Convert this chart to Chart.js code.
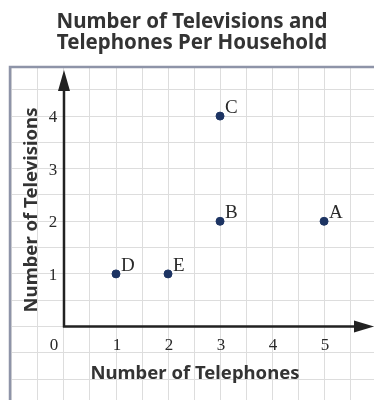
<!DOCTYPE html>
<html>
<head>
<meta charset="utf-8">
<script src="https://cdn.jsdelivr.net/npm/chart.js@4.4.0/dist/chart.umd.min.js"></script>
<style>
  body { margin: 0; background: #fff; }
</style>
</head>
<body>
<canvas id="myChart" width="374" height="400"></canvas>
<script>
// data
const pointNames = ['A', 'B', 'C', 'D', 'E'];
const telephones = [5, 3, 3, 1, 2];
const televisions = [2, 2, 4, 1, 1];
const xTickLabels = [0, 1, 2, 3, 4, 5];
const yTickLabels = [1, 2, 3, 4];

const titleLines = ['Number of Televisions and', 'Telephones Per Household'];
const xTitle = 'Number of Telephones';
const yTitle = 'Number of Televisions';

const sansBold = '"Noto Sans", "Open Sans", sans-serif';
const serif = '"Liberation Serif", "DejaVu Serif", serif';

// grid lines every half unit
function halfSteps(scale) {
    const ticks = [];
    for (let v = Math.ceil(scale.min * 2) / 2; v <= scale.max; v += 0.5) {
        ticks.push({ value: v });
    }
    scale.ticks = ticks;
}

const drawAxes = {
    id: 'drawAxes',
    beforeDatasetsDraw(chart) {
        const ctx = chart.ctx;
        const area = chart.chartArea;
        const xs = chart.scales.x;
        const ys = chart.scales.y;
        const x0 = xs.getPixelForValue(0);
        const y0 = ys.getPixelForValue(0);

        ctx.save();
        // frame (only top and left visible)
        ctx.strokeStyle = '#8e94a8';
        ctx.lineWidth = 2.5;
        ctx.beginPath();
        ctx.moveTo(area.left, area.bottom);
        ctx.lineTo(area.left, area.top);
        ctx.lineTo(area.right, area.top);
        ctx.stroke();

        // axes
        ctx.strokeStyle = '#222';
        ctx.fillStyle = '#222';
        ctx.lineWidth = 2.5;
        const yTip = area.top + 3;
        const xTip = area.right;
        ctx.beginPath();
        ctx.moveTo(x0, y0 + 1);
        ctx.lineTo(x0, yTip + 10);
        ctx.moveTo(x0 - 1, y0);
        ctx.lineTo(xTip - 10, y0);
        ctx.stroke();

        // arrow heads
        ctx.beginPath();
        ctx.moveTo(x0, yTip);
        ctx.lineTo(x0 - 6, yTip + 21);
        ctx.lineTo(x0 + 6, yTip + 21);
        ctx.closePath();
        ctx.fill();
        ctx.beginPath();
        ctx.moveTo(xTip, y0);
        ctx.lineTo(xTip - 20, y0 - 6);
        ctx.lineTo(xTip - 20, y0 + 6);
        ctx.closePath();
        ctx.fill();

        // tick labels
        ctx.font = '17px ' + serif;
        ctx.fillStyle = '#2a2a2a';
        ctx.textAlign = 'center';
        ctx.textBaseline = 'alphabetic';
        xTickLabels.forEach((v) => {
            const px = xs.getPixelForValue(v) + (v === 0 ? -10 : 1);
            ctx.fillText(String(v), px, y0 + 23.5);
        });
        yTickLabels.forEach((v) => {
            ctx.fillText(String(v), x0 - 11, ys.getPixelForValue(v) + 6);
        });

        // axis titles
        ctx.font = 'bold 18.5px ' + sansBold;
        ctx.fillStyle = '#333';
        ctx.fillText(xTitle, 195, 379);
        ctx.translate(37, 210);
        ctx.rotate(-Math.PI / 2);
        ctx.fillText(yTitle, 0, 0);
        ctx.restore();
    },
    afterDatasetsDraw(chart) {
        const ctx = chart.ctx;
        const xs = chart.scales.x;
        const ys = chart.scales.y;
        ctx.save();
        ctx.font = '19px ' + serif;
        ctx.fillStyle = '#2a2a2a';
        ctx.textAlign = 'left';
        ctx.textBaseline = 'alphabetic';
        pointNames.forEach((name, i) => {
            const px = xs.getPixelForValue(telephones[i]);
            const py = ys.getPixelForValue(televisions[i]);
            ctx.fillText(name, px + 5, py - 3);
        });
        ctx.restore();
    }
};

const ctx = document.getElementById('myChart').getContext('2d');

const myChart = new Chart(ctx, {
    type: 'scatter',
    data: {
        datasets: [{
            label: 'Households',
            data: telephones.map((t, i) => ({ x: t, y: televisions[i] })),
            backgroundColor: '#1d3463',
            borderColor: '#1d3463',
            pointRadius: 4,
            pointHoverRadius: 4
        }]
    },
    options: {
        responsive: false,
        animation: false,
        layout: {
            autoPadding: false,
            padding: { left: 10, right: 0, top: 0, bottom: 0 }
        },
        plugins: {
            legend: { display: false },
            tooltip: { enabled: false },
            title: {
                display: true,
                text: titleLines,
                color: '#333',
                font: { family: sansBold, size: 20.5, weight: 'bold', lineHeight: 1.0 },
                padding: { top: 12, bottom: 14 }
            }
        },
        scales: {
            x: {
                type: 'linear',
                min: -1.038,
                max: 5.96,
                afterBuildTicks: halfSteps,
                ticks: { display: false },
                border: { display: false },
                grid: { color: '#dddddd', lineWidth: 1, drawTicks: false }
            },
            y: {
                type: 'linear',
                min: -1.397,
                max: 4.933,
                afterBuildTicks: halfSteps,
                ticks: { display: false },
                border: { display: false },
                grid: { color: '#dddddd', lineWidth: 1, drawTicks: false }
            }
        }
    },
    plugins: [drawAxes]
});
</script>
</body>
</html>
